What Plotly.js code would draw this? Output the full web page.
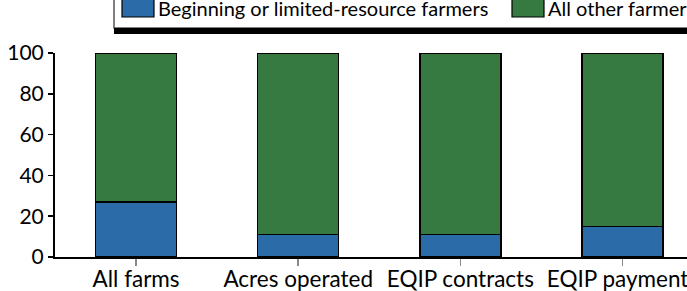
<!DOCTYPE html>
<html>
<head>
<meta charset="utf-8">
<script src="https://cdn.plot.ly/plotly-3.0.1.min.js"></script>
<style>html,body{margin:0;padding:0;background:#fff;}#chart{width:687px;height:291px;}</style>
</head>
<body>
<div id="chart"></div>
<script>
const categories = ["All farms", "Acres operated", "EQIP contracts", "EQIP payments"];
const seriesNames = ["Beginning or limited-resource farmers", "All other farmers"];
const beginningValues = [27, 11, 11, 15];
const otherValues = [73, 89, 89, 85];
const yTickValues = [0, 20, 40, 60, 80, 100];
const colors = ["#2A6BA8", "#367A41"];

const W = 687, H = 291;
const L = 55, R = 0, T = 53, B = 34;
const pw = W - L - R, ph = H - T - B;
const px = x => (x - L) / pw;
const py = y => (H - B - y) / ph;

const font = "Lato, 'Open Sans', sans-serif";

const traces = [
  {type: "bar", x: categories, y: beginningValues, name: seriesNames[0],
   marker: {color: colors[0], line: {color: "#000", width: 1.5}}, width: 0.5, showlegend: false, hoverinfo: "none"},
  {type: "bar", x: categories, y: otherValues, name: seriesNames[1],
   marker: {color: colors[1], line: {color: "#000", width: 1.5}}, width: 0.5, showlegend: false, hoverinfo: "none"}
];

const shapes = [
  {type: "rect", xref: "paper", yref: "paper", x0: px(114), x1: px(700), y0: py(28), y1: py(-10),
   line: {color: "#555", width: 1.5}, fillcolor: "#fff"},
  {type: "rect", xref: "paper", yref: "paper", x0: px(114), x1: px(700), y0: py(34), y1: py(28),
   line: {width: 0}, fillcolor: "#000"},
  {type: "rect", xref: "paper", yref: "paper", x0: px(122), x1: px(154), y0: py(17), y1: py(-1),
   line: {color: "#000", width: 1.2}, fillcolor: colors[0]},
  {type: "rect", xref: "paper", yref: "paper", x0: px(512), x1: px(544), y0: py(17), y1: py(-1),
   line: {color: "#000", width: 1.2}, fillcolor: colors[1]}
];

const annotations = [
  {xref: "paper", yref: "paper", x: px(156), y: py(8), xanchor: "left", yanchor: "middle",
   text: seriesNames[0], showarrow: false, font: {family: font, size: 20, color: "#000"}},
  {xref: "paper", yref: "paper", x: px(546), y: py(8), xanchor: "left", yanchor: "middle",
   text: seriesNames[1], showarrow: false, font: {family: font, size: 20, color: "#000"}}
];

const layout = {
  width: W, height: H,
  margin: {l: L, r: R, t: T, b: B, pad: 0},
  paper_bgcolor: "#fff", plot_bgcolor: "#fff",
  barmode: "stack",
  showlegend: false,
  font: {family: font, size: 20, color: "#000"},
  xaxis: {type: "category", range: [-0.5, 3.5 - (703.5 - 687) / 162], showgrid: false, zeroline: false,
          showline: true, linecolor: "#000", linewidth: 2,
          ticks: "outside", ticklen: 7, tickwidth: 1.5, tickcolor: "#888",
          ticklabelstandoff: -6,
          tickfont: {family: font, size: 22.5, color: "#000"}, fixedrange: true},
  yaxis: {range: [0, 100], tickvals: yTickValues, showgrid: false, zeroline: false,
          showline: true, linecolor: "#000", linewidth: 2,
          ticks: "outside", ticklen: 5, tickwidth: 1.5, tickcolor: "#000",
          tickfont: {family: font, size: 21, color: "#000"}, fixedrange: true},
  shapes: shapes,
  annotations: annotations
};

Plotly.newPlot("chart", traces, layout, {displayModeBar: false, staticPlot: true});
</script>
</body>
</html>
